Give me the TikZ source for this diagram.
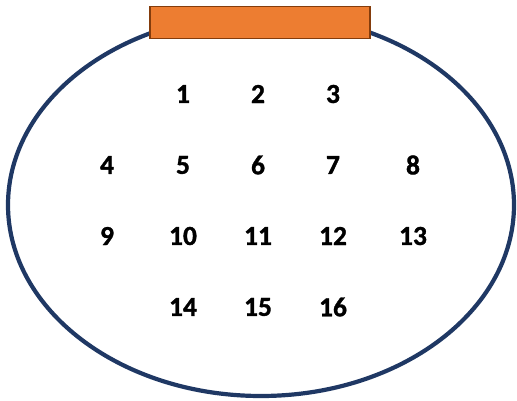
\documentclass[tikz,border=0pt]{standalone}
\usepackage{fontspec}
\setmainfont{Carlito}[BoldFeatures={FakeBold=1.2}]
\definecolor{navy}{HTML}{1F3864}
\definecolor{orangefill}{HTML}{ED7D31}
\definecolor{orangeedge}{HTML}{843C0C}
\begin{document}
\begin{tikzpicture}[x=1pt,y=-1pt,
  pin/.style={font=\fontsize{27.5}{32}\selectfont\bfseries, inner sep=0pt, anchor=center}]
\useasboundingbox (0,0) rectangle (517,401);
\draw[navy, line width=4.2pt] (261,205) ellipse [x radius=253, y radius=191];
\node[draw=orangeedge, fill=orangefill, line width=1.5pt, minimum width=220pt, minimum height=32pt, inner sep=0pt, anchor=north west] (key) at (149,6) {};
\foreach \n/\x/\y in {1/183/94,2/258/94,3/333/94,
  4/107/165,5/183/165,6/258/165,7/333/165,8/413/165,
  9/107/236,10/183/236,11/258/236,12/333/236,13/413/236,
  14/183/307,15/258/307,16/333/307}
  \node[pin] (p\n) at (\x,\y) {\n};
\end{tikzpicture}
\end{document}
